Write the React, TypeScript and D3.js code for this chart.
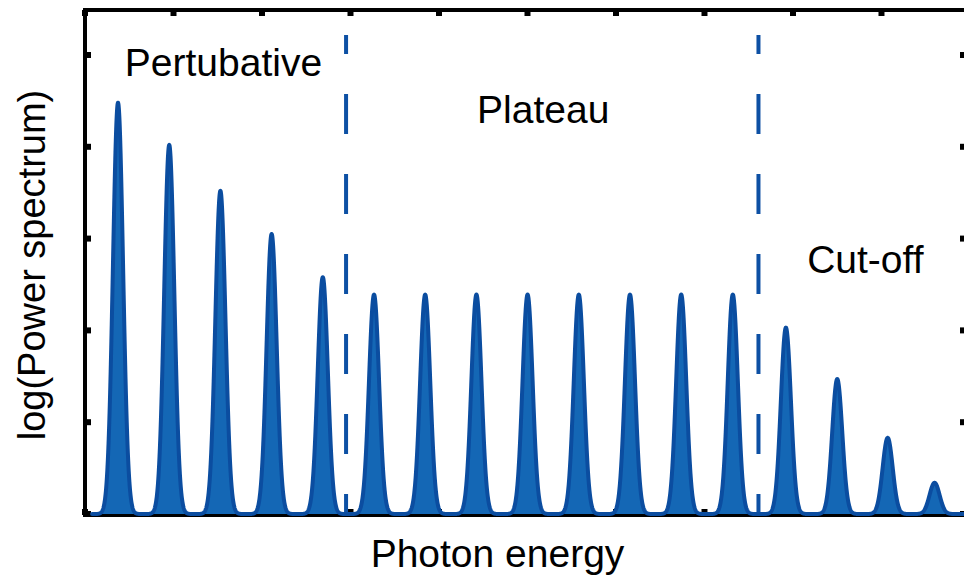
import React from "react";
import * as d3 from "d3";

// Harmonic peak centres (photon energy, arb. units) and their log-power heights
const peakCenters = [0.373, 0.952, 1.53, 2.109, 2.687, 3.266, 3.844, 4.423, 5.001, 5.58, 6.158, 6.737, 7.32, 7.92, 8.5, 9.07, 9.6];
const peakHeights = [4.48, 4.02, 3.52, 3.05, 2.58, 2.39, 2.39, 2.39, 2.39, 2.39, 2.39, 2.39, 2.39, 2.03, 1.47, 0.83, 0.34];
const peakWidth = 0.057; // gaussian sigma of each harmonic line

// Region boundaries drawn as dashed lines
const boundaries = [2.95, 7.61];
const regionLabels = [
  { text: "Pertubative", x: 0.45, y: 4.77 },
  { text: "Plateau", x: 4.43, y: 4.26 },
  { text: "Cut-off", x: 8.16, y: 2.62 },
];

const xTicks = [0, 1, 2, 3, 4, 5, 6, 7, 8, 9];
const yTicks = [0, 1, 2, 3, 4, 5];

const W = 964;
const H = 579;
const left = 85;
const right = 966;
const top = 10;
const bottom = 515;

export default function App() {
  const x = d3.scaleLinear().domain([0, 9.955]).range([left, right]);
  const y = d3.scaleLinear().domain([0, 5.49]).range([514, top]);

  const samples = d3.range(0.08, 9.955, 0.002);
  const spectrum = samples.map((e) => {
    let v = 0;
    peakCenters.forEach((c, i) => {
      const d = (e - c) / peakWidth;
      v += peakHeights[i] * Math.exp(-0.5 * d * d);
    });
    return [e, v] as [number, number];
  });

  const area = d3
    .area<[number, number]>()
    .x((d) => x(d[0]))
    .y0(y(0))
    .y1((d) => y(d[1]));
  const line = d3
    .line<[number, number]>()
    .x((d) => x(d[0]))
    .y((d) => y(d[1]));

  const font = "'Liberation Sans', Arial, Helvetica, sans-serif";
  const tickLen = 6;

  return (
    <svg width={W} height={H} style={{ position: "absolute", left: 0, top: 0, background: "#fff" }}>
      {/* axes box */}
      <g stroke="#000" strokeWidth={4} fill="none">
        <line x1={left} y1={top} x2={right} y2={top} />
        <line x1={left} y1={bottom} x2={right} y2={bottom} />
        <line x1={left} y1={top - 2} x2={left} y2={bottom + 2} />
        <line x1={right} y1={top - 2} x2={right} y2={bottom + 2} />
      </g>
      <g stroke="#000" strokeWidth={6}>
        {xTicks.map((t) => (
          <g key={"xt" + t}>
            <line x1={x(t)} y1={top} x2={x(t)} y2={top + tickLen} />
            <line x1={x(t)} y1={bottom} x2={x(t)} y2={bottom - tickLen} />
          </g>
        ))}
        {yTicks.map((t) => (
          <g key={"yt" + t}>
            <line x1={left} y1={y(t)} x2={left + tickLen} y2={y(t)} />
            <line x1={right} y1={y(t)} x2={right - tickLen} y2={y(t)} />
          </g>
        ))}
      </g>

      {/* region boundaries */}
      {boundaries.map((b) => (
        <line
          key={"b" + b}
          x1={x(b)}
          x2={x(b)}
          y1={y(0)}
          y2={35}
          stroke="#0d50a4"
          strokeWidth={4}
          strokeDasharray="40 40"
          strokeDashoffset={20}
        />
      ))}

      {/* harmonic spectrum */}
      <path d={area(spectrum) ?? ""} fill="#1467b5" stroke="none" />
      <path d={line(spectrum) ?? ""} fill="none" stroke="#0b4da0" strokeWidth={4} strokeLinejoin="round" strokeLinecap="round" />

      {regionLabels.map((r) => (
        <text key={r.text} x={x(r.x)} y={y(r.y)} fontFamily={font} fontSize={39} fill="#000">
          {r.text}
        </text>
      ))}

      <text x={(left + right) / 2 - 28} y={567} textAnchor="middle" fontFamily={font} fontSize={39} fill="#000">
        Photon energy
      </text>
      <text
        transform={`translate(45, 265) rotate(-90)`}
        textAnchor="middle"
        fontFamily={font}
        fontSize={38}
        fill="#000"
      >
        log(Power spectrum)
      </text>
    </svg>
  );
}
